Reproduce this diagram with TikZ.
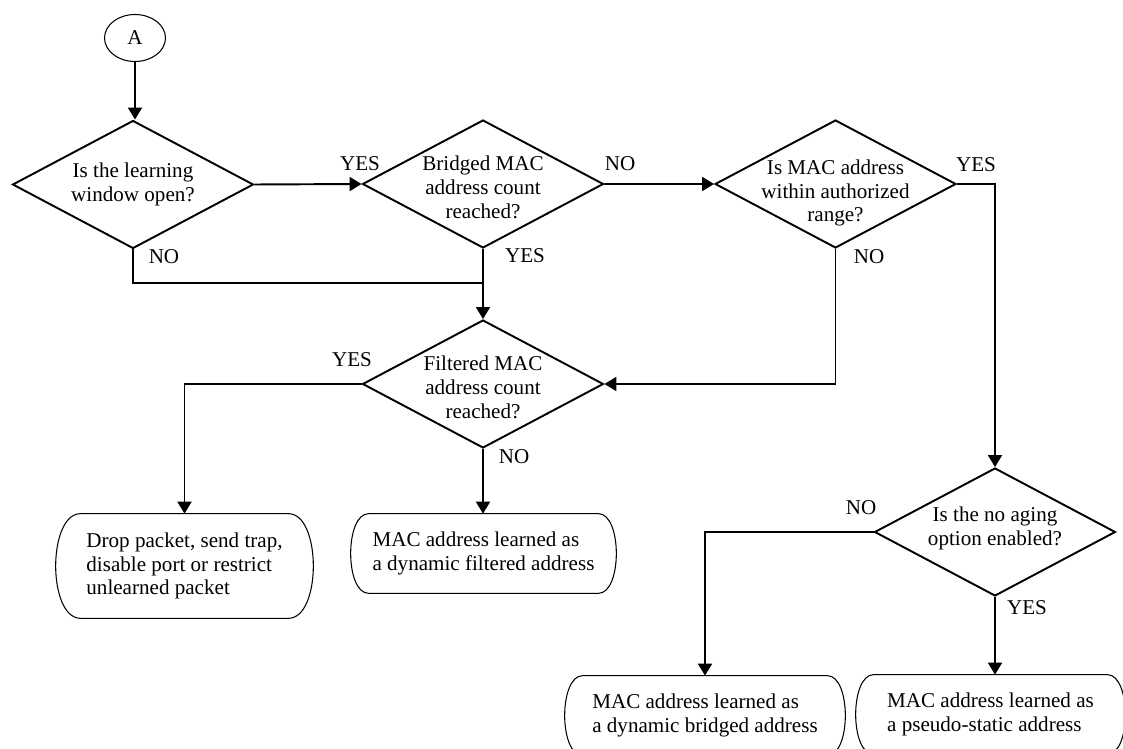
\documentclass[tikz,border=0pt]{standalone}
\usepackage{fontspec}
\setmainfont{Liberation Serif}
\usetikzlibrary{arrows.meta,shapes.geometric}
\newcommand{\pilloutline}[2]{%
  \draw[pillline] ([xshift=#2]#1.north west) -- ([xshift=-#2]#1.north east)
    .. controls ([xshift=#2/3]#1.north east) and ([xshift=#2/3]#1.south east) .. ([xshift=-#2]#1.south east)
    -- ([xshift=#2]#1.south west)
    .. controls ([xshift=-#2/3]#1.south west) and ([xshift=-#2/3]#1.north west) .. cycle;}
\begin{document}
\begin{tikzpicture}[x=0.02cm,y=-0.02cm,
  every node/.style={font=\fontsize{12pt}{13.6pt}\selectfont},
  decbox/.style={diamond, draw, line width=1.1pt, inner sep=0pt, minimum width=4.82cm, minimum height=2.56cm},
  dectext/.style={inner sep=0pt, align=center},
  pill/.style={rectangle, inner sep=0pt, align=left},
  pillline/.style={line width=0.6pt},
  conn/.style={line width=1.1pt},
  arr/.style={line width=1.1pt, -{Triangle[length=0.24cm,width=0.28cm]}},
  lbl/.style={inner sep=0pt}
]
\useasboundingbox (0,0) rectangle (1123,749);

% start connector
\node[draw, ellipse, line width=0.6pt, minimum width=1.22cm, minimum height=0.94cm, inner sep=0pt] (a) at (135,38) {A};

% decisions
\node[decbox] (d1) at (133,184.5) {};
\node[decbox] (d2) at (483,184) {};
\node[decbox] (d3) at (835.5,184) {};
\node[decbox] (d4) at (483,384) {};
\node[decbox] (d5) at (995,532) {};
\node[dectext] (t1) at (d1) {Is the learning\\window open?};
\node[dectext] (t2) at ([yshift=-0.06cm]d2.center) {Bridged MAC\\address count\\reached?};
\node[dectext] (t3) at ([yshift=-0.18cm]d3.center) {Is MAC address\\within authorized\\range?};
\node[dectext] (t4) at ([yshift=-0.06cm]d4.center) {Filtered MAC\\address count\\reached?};
\node[dectext] (t5) at ([yshift=0.07cm]d5.center) {Is the no aging\\option enabled?};

% terminal boxes
\node[pill, minimum width=5.14cm, minimum height=2.08cm] (p1) at (184.5,566) {Drop packet, send trap,\\disable port or restrict\\unlearned packet};
\node[pill, minimum width=5.3cm, minimum height=1.58cm] (p2) at (483.5,553.5) {MAC address learned as\\a dynamic filtered address};
\node[pill, minimum width=5.6cm, minimum height=1.58cm] (p3) at (705,715.5) {MAC address learned as\\a dynamic bridged address};
\node[pill, minimum width=5.38cm, minimum height=1.58cm] (p4) at (990.5,714.5) {MAC address learned as\\a pseudo-static address};
\pilloutline{p1}{0.5cm}
\pilloutline{p2}{0.36cm}
\pilloutline{p3}{0.36cm}
\pilloutline{p4}{0.36cm}

% connectors
\coordinate (j1) at (483,283);
\draw[arr] (a.south) -- (a.south |- d1.north);
\draw[arr] (d1.east) -- (d2.west);
\draw[arr] (d2.east) -- (d3.west);
\draw[arr] (d3.east) -| (d5.north);
\draw[conn] (d1.south) |- (j1);
\draw[arr] (d2.south) -- (d4.north);
\draw[arr] (d3.south) |- (d4.east);
\draw[arr] (d4.west) -| (p1.north);
\draw[arr] (d4.south) -- (d4.south |- p2.north);
\draw[arr] (d5.west) -| (p3.north);
\draw[arr] (d5.south) -- (d5.south |- p4.north);

% labels
\node[lbl] (l1) at (360,164) {YES};
\node[lbl] (l2) at (620,164) {NO};
\node[lbl] (l3) at (976,165) {YES};
\node[lbl] (l4) at (164,257) {NO};
\node[lbl] (l5) at (525,256) {YES};
\node[lbl] (l6) at (869,257) {NO};
\node[lbl] (l7) at (352,360) {YES};
\node[lbl] (l8) at (514,457) {NO};
\node[lbl] (l9) at (861,508) {NO};
\node[lbl] (l10) at (1027,608) {YES};
\end{tikzpicture}
\end{document}
